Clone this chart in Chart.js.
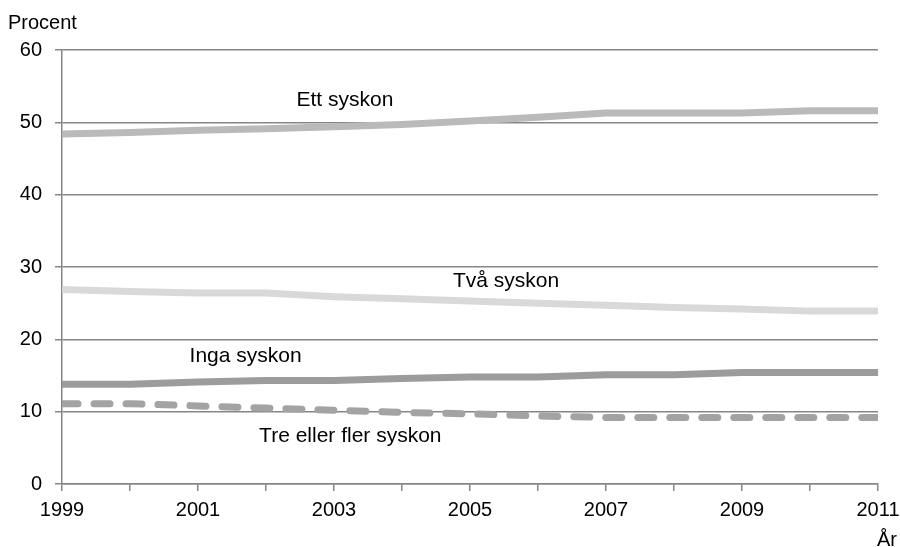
<!DOCTYPE html>
<html lang="sv">
<head>
    <meta charset="UTF-8">
    <title>Syskon</title>
    <script src="https://cdn.jsdelivr.net/npm/chart.js"></script>
    <style>
        body { margin: 0; background: #fff; }
        #wrap { width: 900px; height: 547px; }
    </style>
</head>
<body>
    <div id="wrap"><canvas id="chart"></canvas></div>

    <script>
        // Data
        var years = [1999, 2000, 2001, 2002, 2003, 2004, 2005, 2006, 2007, 2008, 2009, 2010, 2011];
        var ettSyskon = [48.4, 48.6, 48.9, 49.1, 49.4, 49.7, 50.2, 50.7, 51.3, 51.3, 51.3, 51.6, 51.6];
        var tvaSyskon = [26.9, 26.6, 26.4, 26.4, 25.9, 25.6, 25.3, 25.0, 24.7, 24.4, 24.2, 23.9, 23.9];
        var ingaSyskon = [13.8, 13.8, 14.1, 14.3, 14.3, 14.6, 14.8, 14.8, 15.1, 15.1, 15.4, 15.4, 15.4];
        var treEllerFler = [11.1, 11.1, 10.8, 10.5, 10.2, 9.9, 9.7, 9.4, 9.2, 9.2, 9.2, 9.2, 9.2];
        var yTicks = [0, 10, 20, 30, 40, 50, 60];

        function pts(arr) {
            return arr.map(function (v, i) { return { x: years[i], y: v }; });
        }

        var FONT = "'Liberation Sans', Arial, sans-serif";

        // text labels drawn next to the lines, placed in data coordinates
        var lineLabels = {
            id: 'lineLabels',
            afterDatasetsDraw: function (chart) {
                var ctx = chart.ctx;
                var xs = chart.scales.x, ys = chart.scales.y;
                var items = [
                    ['Ett syskon', 2003.16, 53.1],
                    ['Två syskon', 2005.53, 28.1],
                    ['Inga syskon', 2001.7, 17.6],
                    ['Tre eller fler syskon', 2003.24, 6.6]
                ];
                ctx.save();
                ctx.font = '21px ' + FONT;
                ctx.fillStyle = '#000';
                ctx.textAlign = 'center';
                ctx.textBaseline = 'middle';
                items.forEach(function (it) {
                    ctx.fillText(it[0], xs.getPixelForValue(it[1]), ys.getPixelForValue(it[2]));
                });
                // axis titles
                ctx.font = '20px ' + FONT;
                ctx.textAlign = 'left';
                ctx.fillText('Procent', 8, 23);
                ctx.textAlign = 'right';
                ctx.fillText('År', 897, 540);
                ctx.restore();
            }
        };

        var ctx = document.getElementById('chart').getContext('2d');
        var chart = new Chart(ctx, {
            type: 'line',
            data: {
                datasets: [
                    { label: 'Ett syskon', data: pts(ettSyskon), borderColor: '#bababa', borderWidth: 7 },
                    { label: 'Två syskon', data: pts(tvaSyskon), borderColor: '#d9d9d9', borderWidth: 7 },
                    { label: 'Inga syskon', data: pts(ingaSyskon), borderColor: '#9c9c9c', borderWidth: 7 },
                    { label: 'Tre eller fler syskon', data: pts(treEllerFler), borderColor: '#a3a3a3', borderWidth: 7,
                      borderDash: [16, 16], borderCapStyle: 'round' }
                ]
            },
            options: {
                responsive: true,
                maintainAspectRatio: false,
                animation: false,
                elements: {
                    point: { radius: 0 },
                    line: { tension: 0, borderCapStyle: 'butt', borderJoinStyle: 'round' }
                },
                layout: { padding: { left: 0, right: 0, top: 50, bottom: 0 } },
                plugins: {
                    legend: { display: false },
                    tooltip: { enabled: false }
                },
                scales: {
                    x: {
                        type: 'linear',
                        min: 1999,
                        max: 2011,
                        afterFit: function (s) {
                            s.height = 63;
                            s.paddingLeft = 0;
                            s.paddingRight = 22;
                        },
                        afterBuildTicks: function (s) {
                            s.ticks = years.map(function (y) { return { value: y }; });
                        },
                        ticks: {
                            font: { family: FONT, size: 20 },
                            color: '#000',
                            padding: 7,
                            maxRotation: 0,
                            autoSkip: false,
                            callback: function (v) { return v % 2 === 1 ? String(v) : ''; }
                        },
                        grid: { drawOnChartArea: false, drawTicks: true, tickLength: 7, color: '#868686', lineWidth: 1.5 },
                        border: { color: '#868686', width: 1.5 }
                    },
                    y: {
                        min: 0,
                        max: 60,
                        afterFit: function (s) { s.width = 62; },
                        afterBuildTicks: function (s) {
                            s.ticks = yTicks.map(function (v) { return { value: v }; });
                        },
                        ticks: {
                            font: { family: FONT, size: 20 },
                            color: '#000',
                            padding: 13
                        },
                        grid: { color: '#868686', lineWidth: 1.5, tickLength: 7 },
                        border: { color: '#868686', width: 1.5 }
                    }
                }
            },
            plugins: [lineLabels]
        });
    </script>
</body>
</html>
